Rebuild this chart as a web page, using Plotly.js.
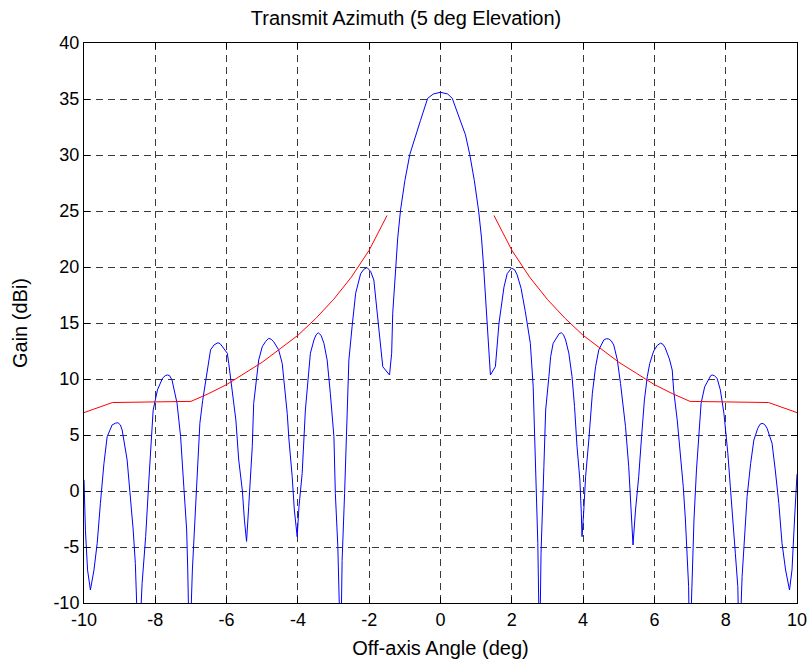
<!DOCTYPE html>
<html>
<head>
<meta charset="utf-8">
<script src="https://cdn.plot.ly/plotly-3.0.1.min.js"></script>
<style>html,body{margin:0;padding:0;background:#fff;}#chart{width:812px;height:668px;}</style>
</head>
<body>
<div id="chart"></div>
<script>
// Blue: measured antenna gain pattern (deg, dBi); values below -10 are off-chart nulls
const gainAngle = [
 -10, -9.96, -9.9, -9.82, -9.72, -9.63, -9.54, -9.44, -9.35, -9.21, -9.12, -9.05, -8.98, -8.93, -8.79, -8.7, -8.62, -8.56, -8.47,
 -8.37, -8.27, -8.18, -8.11, -8.06, -7.94, -7.8, -7.72, -7.66, -7.6, -7.53, -7.39, -7.29, -7.2, -7.12, -7.09, -7.04,
 -6.96, -6.87, -6.81, -6.75, -6.67, -6.61, -6.54, -6.5, -6.45, -6.35, -6.24, -6.18, -6.12, -5.98, -5.94, -5.89, -5.84, -5.77, -5.74,
 -5.66, -5.56, -5.5, -5.44, -5.38, -5.28, -5.24, -5.16, -5.1, -5.0, -4.91, -4.82, -4.75, -4.68, -4.54, -4.44, -4.37, -4.3,
 -4.25, -4.16, -4.1, -4.02, -3.97, -3.88, -3.79, -3.72, -3.65, -3.55, -3.49, -3.43, -3.35, -3.27, -3.18, -3.09, -2.99, -2.95, -2.88, -2.8,
 -2.76, -2.69, -2.62, -2.57, -2.48, -2.38, -2.24, -2.15, -2.06, -1.96, -1.87, -1.78, -1.68, -1.62, -1.43, -1.37, -1.34, -1.26, -1.2, -1.12,
 -1.0, -0.86, -0.7, -0.56, -0.36, -0.2, 0, 0.2, 0.33, 0.56, 0.7, 0.82, 0.95, 1.07, 1.15, 1.21, 1.31, 1.36, 1.40, 1.54, 1.64, 1.78, 1.87, 1.99, 2.08, 2.15, 2.26, 2.38,
 2.52, 2.6, 2.64, 2.68, 2.73, 2.78, 2.82, 2.9, 2.95, 3.04, 3.09, 3.16, 3.27, 3.33, 3.39, 3.45, 3.51, 3.6, 3.69, 3.76, 3.83, 3.91, 3.95,
 3.97, 4.02, 4.07, 4.16, 4.26, 4.35, 4.44, 4.58, 4.65, 4.72, 4.79, 4.86, 4.96, 5.05, 5.19, 5.28, 5.35, 5.4, 5.47, 5.56, 5.64, 5.72,
 5.8, 5.87, 5.98, 6.08, 6.17, 6.24, 6.3, 6.42, 6.5, 6.54, 6.64, 6.73, 6.81, 6.87, 6.92, 6.96, 6.99, 7.06, 7.11, 7.18, 7.25, 7.31, 7.41,
 7.53, 7.58, 7.62, 7.68, 7.76, 7.85, 7.95, 8.06, 8.13, 8.21, 8.27, 8.34, 8.38, 8.46, 8.53, 8.6, 8.7, 8.79, 8.9, 8.96, 9.02, 9.09, 9.16, 9.3, 9.39,
 9.49, 9.58, 9.68, 9.79, 9.86, 9.93, 10
];
const gainDbi = [
 1.0, -3.5, -7.05, -8.84, -7.05, -4.67, -1.1, 2.47, 4.85, 5.9, 6.05, 6.1, 5.9, 5.45, 2.77, -0.5, -3.48, -6.46, -15,
 -8.24, -4.08, 0.98, 4.26, 7.23, 9.02, 10.06, 10.3, 10.36, 10.3, 9.9, 7.83, 4.85, 0.38, -3.48, -7.05, -15,
 -7.05, -1.7, 2.47, 6.04, 8.1, 9.3, 10.8, 11.7, 12.6, 13.05, 13.24, 13.15, 12.9, 12.3, 11.4, 10.06, 8.72, 7.23, 6.34,
 2.77, 0.09, -2.6, -4.5, -1.4, 3.96, 7.83, 10.2, 11.7, 12.88, 13.33, 13.63, 13.55, 13.33, 12.6, 11.4, 9.3, 6.94,
 4.55, 1.28, -1.7, -4.08, -1.4, 1.58, 7.23, 9.6, 12.3, 13.48, 13.95, 14.13, 13.9, 13.19, 11.7, 8.72, 4.85, -0.2, -4.97, -15,
 -6.2, -0.2, 7.23, 11.7, 14.67, 17.65, 19.4, 19.8, 19.95, 19.6, 18.84, 15.87, 13.19, 11.1, 10.36, 12.3, 15.87, 20.0, 22.6, 25.1,
 27.7, 30.06, 31.8, 33.1, 35.06, 35.45, 35.6, 35.45, 35.06, 33.1, 31.8, 30.06, 27.7, 25.0, 22.6, 20.0, 14.97, 11.7, 10.36, 11.1, 14.97, 18.2, 19.4, 19.9, 19.75, 19.3, 18.1, 16.0,
 13.19, 9.3, 5.15, -0.2, -4.67, -15, -5.56, 2.17, 7.23, 10.2, 12.0, 13.19, 13.78, 14.05, 14.13, 13.95, 13.48, 12.3, 10.2, 7.53, 3.96, 0.98, -1.99,
 -4.08, -1.7, 1.28, 4.55, 8.72, 11.1, 12.6, 13.48, 13.6, 13.57, 13.4, 13.04, 11.7, 9.6, 5.74, 2.17, -1.4, -4.82, -1.7, 1.28, 4.85, 8.13,
 10.2, 11.4, 12.5, 13.0, 13.2, 13.1, 12.8, 11.8, 10.8, 9.0, 6.34, 3.37, 0.38, -2.59, -5.56, -8.54, -15, -7.05, -2.59, 1.88, 5.45, 7.83, 9.3,
 10.06, 10.3, 10.36, 10.3, 10.06, 9.02, 6.94, 3.37, 0.38, -2.59, -5.56, -8.54, -15, -7.65, -4.08, -0.5, 2.47, 4.55, 5.6, 5.95, 6.04, 5.95, 5.6, 4.26, 1.88,
 -1.1, -4.67, -7.05, -8.84, -7.05, -2.59, 1.5
];
// Red: sidelobe envelope mask, left and right branches
const maskLeftAngle = [-10, -9.2, -7, -6.5, -6, -5.5, -5, -4.5, -4, -3.5, -3, -2.5, -2, -1.5];
const maskLeftDbi   = [7.0, 7.9, 8.0, 8.7, 9.5, 10.5, 11.5, 12.7, 13.9, 15.4, 17.1, 19.1, 21.5, 24.6];
const maskRightAngle = [1.5, 2, 2.5, 3, 3.5, 4, 4.5, 5, 5.5, 6, 6.5, 7, 9.2, 10];
const maskRightDbi   = [24.6, 21.5, 19.1, 17.1, 15.4, 13.9, 12.7, 11.5, 10.5, 9.5, 8.7, 8.0, 7.9, 7.0];

const xTicks = [-10, -8, -6, -4, -2, 0, 2, 4, 6, 8, 10];
const yTicks = [-10, -5, 0, 5, 10, 15, 20, 25, 30, 35, 40];

const font = 'Liberation Sans, Arial, sans-serif';
const traces = [
  {x: gainAngle, y: gainDbi, mode: 'lines', line: {color: '#0000ff', width: 1}, hoverinfo: 'skip'},
  {x: maskLeftAngle, y: maskLeftDbi, mode: 'lines', line: {color: '#ff0000', width: 1}, hoverinfo: 'skip'},
  {x: maskRightAngle, y: maskRightDbi, mode: 'lines', line: {color: '#ff0000', width: 1}, hoverinfo: 'skip'}
];
const axisCommon = {
  showline: true, linecolor: '#000', linewidth: 1, mirror: 'ticks',
  ticks: 'inside', ticklen: 6, tickcolor: '#000', tickwidth: 1,
  showgrid: true, gridcolor: '#3a3a3a', gridwidth: 1, griddash: '7px,5px',
  zeroline: false, tickfont: {family: font, size: 18, color: '#000'}
};
const layout = {
  width: 812, height: 668,
  margin: {l: 84, r: 15, t: 43, b: 65},
  paper_bgcolor: '#fff', plot_bgcolor: '#fff',
  showlegend: false,
  title: {text: 'Transmit Azimuth (5 deg Elevation)', font: {family: font, size: 20, color: '#000'}, x: 0.5, xanchor: 'center', y: 0.973, yanchor: 'middle'},
  xaxis: Object.assign({}, axisCommon, {range: [-10, 10], tickvals: xTicks, ticktext: xTicks.map(String),
    title: {text: 'Off-axis Angle (deg)', font: {family: font, size: 20, color: '#000'}, standoff: 12}}),
  yaxis: Object.assign({}, axisCommon, {range: [-10, 40], tickvals: yTicks, ticktext: yTicks.map(String),
    title: {text: 'Gain (dBi)', font: {family: font, size: 20, color: '#000'}, standoff: 20}})
};
Plotly.newPlot('chart', traces, layout, {staticPlot: true, displayModeBar: false});
</script>
</body>
</html>
